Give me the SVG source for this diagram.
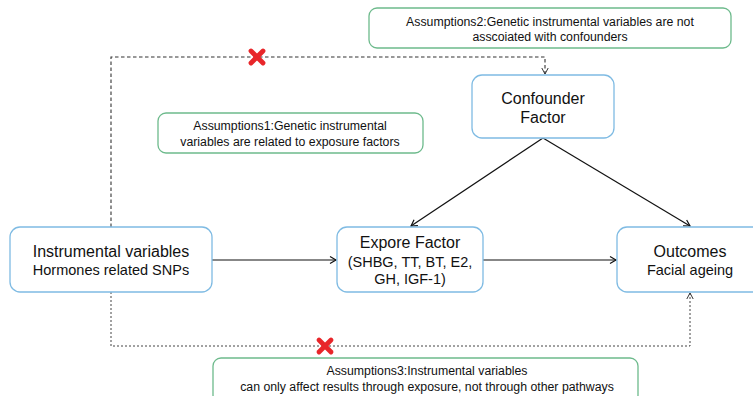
<svg xmlns="http://www.w3.org/2000/svg" width="753" height="396" viewBox="0 0 753 396">
<style>
.node{fill:#fff;stroke:#7fbbe3;stroke-width:1.3}
.asm{fill:#fff;stroke:#6dba8c;stroke-width:1.3}
.t{font-family:"Liberation Sans",Arial,sans-serif;fill:#111;text-anchor:middle}
.big{font-size:16px}
.mid{font-size:14.5px}
.sm{font-size:12.3px}
.edge{fill:none;stroke:#111;stroke-width:1.2}
.dash{fill:none;stroke:#333;stroke-width:1.1;stroke-dasharray:3.5,2.5}
.dot{fill:none;stroke:#444;stroke-width:1;stroke-dasharray:2,2}
.x{stroke:#e8262a;stroke-width:4.8;stroke-linecap:round}
</style>
<defs>
<marker id="arr" markerWidth="10" markerHeight="10" refX="8" refY="5" orient="auto" markerUnits="userSpaceOnUse">
<polyline points="2,1.5 8,5 2,8.5" fill="none" stroke="#111" stroke-width="1.2"/>
</marker>
<marker id="arrd" markerWidth="10" markerHeight="10" refX="8" refY="5" orient="auto" markerUnits="userSpaceOnUse">
<polyline points="2,1.8 8,5 2,8.2" fill="none" stroke="#333" stroke-width="1"/>
</marker>
</defs>
<g id="connectors">
<line class="edge" x1="212" y1="260" x2="336" y2="260" marker-end="url(#arr)"/>
<line class="edge" x1="483" y1="260" x2="616" y2="260" marker-end="url(#arr)"/>
<line class="edge" x1="543" y1="138" x2="411" y2="226" marker-end="url(#arr)"/>
<line class="edge" x1="543" y1="138" x2="690" y2="226" marker-end="url(#arr)"/>
<polyline class="dash" points="111,227 111,57 545,57 545,74" marker-end="url(#arrd)"/>
<polyline class="dot" points="111,292 111,346 690,346 690,293" marker-end="url(#arrd)"/>
<g id="cross1"><line class="x" x1="251" y1="51" x2="263" y2="63"/><line class="x" x1="263" y1="51" x2="251" y2="63"/></g>
<g id="cross2"><line class="x" x1="319" y1="340" x2="331" y2="352"/><line class="x" x1="331" y1="340" x2="319" y2="352"/></g>
</g>
<g id="assumption2">
<rect class="asm" x="369" y="8" width="362" height="40" rx="8"/>
<text class="t sm" x="550" y="26">Assumptions2:Genetic instrumental variables are not</text>
<text class="t sm" x="550" y="41">asscoiated with confounders</text>
</g>
<g id="confounder">
<rect class="node" x="472" y="75" width="142" height="63" rx="10"/>
<text class="t big" x="543" y="104">Confounder</text>
<text class="t big" x="543" y="123">Factor</text>
</g>
<g id="assumption1">
<rect class="asm" x="158" y="113" width="265" height="40" rx="8"/>
<text class="t sm" x="290" y="130">Assumptions1:Genetic instrumental</text>
<text class="t sm" x="290" y="146">variables are related to exposure factors</text>
</g>
<g id="instrumental">
<rect class="node" x="10" y="227" width="202" height="65" rx="10"/>
<text class="t big" x="111" y="257">Instrumental variables</text>
<text class="t mid" x="111" y="275">Hormones related SNPs</text>
</g>
<g id="exposure">
<rect class="node" x="337" y="227" width="146" height="65" rx="10"/>
<text class="t big" x="410" y="248">Expore Factor</text>
<text class="t mid" x="410" y="267">(SHBG, TT, BT, E2,</text>
<text class="t mid" x="410" y="284">GH, IGF-1)</text>
</g>
<g id="outcomes">
<rect class="node" x="617" y="227" width="150" height="65" rx="10"/>
<text class="t big" x="690" y="257">Outcomes</text>
<text class="t mid" x="690" y="275">Facial ageing</text>
</g>
<g id="assumption3">
<rect class="asm" x="213" y="358" width="425" height="45" rx="8"/>
<text class="t sm" x="427" y="375">Assumptions3:Instrumental variables</text>
<text class="t sm" x="427" y="391">can only affect results through exposure, not through other pathways</text>
</g>
</svg>
